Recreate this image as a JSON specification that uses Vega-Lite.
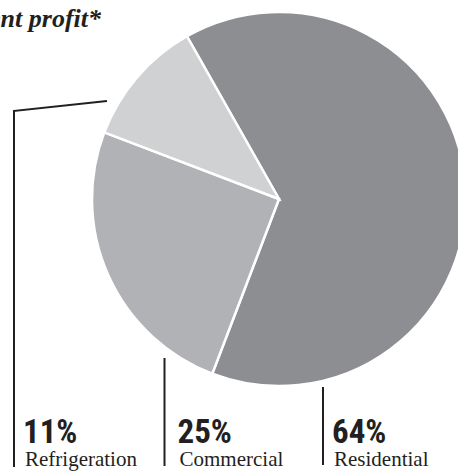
{
  "$schema": "https://vega.github.io/schema/vega-lite/v6.json",
  "width": 458,
  "height": 472,
  "autosize": {"type": "none"},
  "padding": 0,
  "background": "white",
  "view": {"stroke": null},
  "title": {
    "text": "Segment profit*",
    "anchor": "start",
    "align": "right",
    "dx": 101,
    "offset": -53,
    "baseline": "alphabetic",
    "font": "Liberation Serif",
    "fontStyle": "italic",
    "fontWeight": "bold",
    "fontSize": 26,
    "color": "#231f20"
  },
  "data": {
    "values": [
      {"segment": "Residential", "share": 0.64},
      {"segment": "Commercial", "share": 0.25},
      {"segment": "Refrigeration", "share": 0.11}
    ]
  },
  "layer": [
    {
      "mark": {"type": "arc", "x": 279, "y": 199, "outerRadius": 187, "stroke": "white", "strokeWidth": 2.5},
      "encoding": {
        "theta": {"field": "share", "type": "quantitative", "stack": true, "scale": {"domain": [0, 1], "range": [-0.5149, 5.7683]}},
        "order": {"field": "share", "sort": "descending"},
        "color": {
          "field": "segment",
          "type": "nominal",
          "scale": {"domain": ["Residential", "Commercial", "Refrigeration"], "range": ["#8d8e91", "#b1b2b5", "#d0d1d3"]},
          "legend": null
        }
      }
    },
    {
      "transform": [{"filter": "datum.segment === 'Refrigeration'"}],
      "mark": {"type": "rule", "color": "#231f20", "strokeWidth": 2},
      "encoding": {
        "x": {"field": "segment", "type": "nominal", "scale": {"type": "point", "padding": 0, "domain": ["Refrigeration", "Commercial", "Residential"], "range": [14, 323]}, "axis": null},
        "y": {"value": 111},
        "y2": {"value": 467}
      }
    },
    {
      "transform": [{"filter": "datum.segment === 'Refrigeration'"}],
      "mark": {"type": "rule", "color": "#231f20", "strokeWidth": 2, "strokeCap": "square"},
      "encoding": {
        "x": {"field": "segment", "type": "nominal", "axis": null},
        "x2": {"value": 106},
        "y": {"value": 111},
        "y2": {"value": 101}
      }
    },
    {
      "transform": [{"filter": "datum.segment === 'Commercial'"}],
      "mark": {"type": "rule", "xOffset": -4, "color": "#231f20", "strokeWidth": 2},
      "encoding": {
        "x": {"field": "segment", "type": "nominal", "axis": null},
        "y": {"value": 358},
        "y2": {"value": 466}
      }
    },
    {
      "transform": [{"filter": "datum.segment === 'Residential'"}],
      "mark": {"type": "rule", "color": "#231f20", "strokeWidth": 2},
      "encoding": {
        "x": {"field": "segment", "type": "nominal", "axis": null},
        "y": {"value": 387},
        "y2": {"value": 465}
      }
    },
    {
      "mark": {"type": "text", "y": 443, "dx": 9, "align": "left", "baseline": "alphabetic", "font": "Roboto Condensed, DejaVu Sans Condensed, Liberation Sans Narrow, Roboto", "fontWeight": "bold", "fontSize": 33, "color": "#231f20"},
      "encoding": {
        "x": {"field": "segment", "type": "nominal", "axis": null},
        "text": {"field": "share", "type": "quantitative", "format": ".0%"}
      }
    },
    {
      "mark": {"type": "text", "y": 466, "dx": 11, "align": "left", "baseline": "alphabetic", "font": "Liberation Serif", "fontSize": 21, "color": "#231f20"},
      "encoding": {
        "x": {"field": "segment", "type": "nominal", "axis": null},
        "text": {"field": "segment", "type": "nominal"}
      }
    }
  ]
}
